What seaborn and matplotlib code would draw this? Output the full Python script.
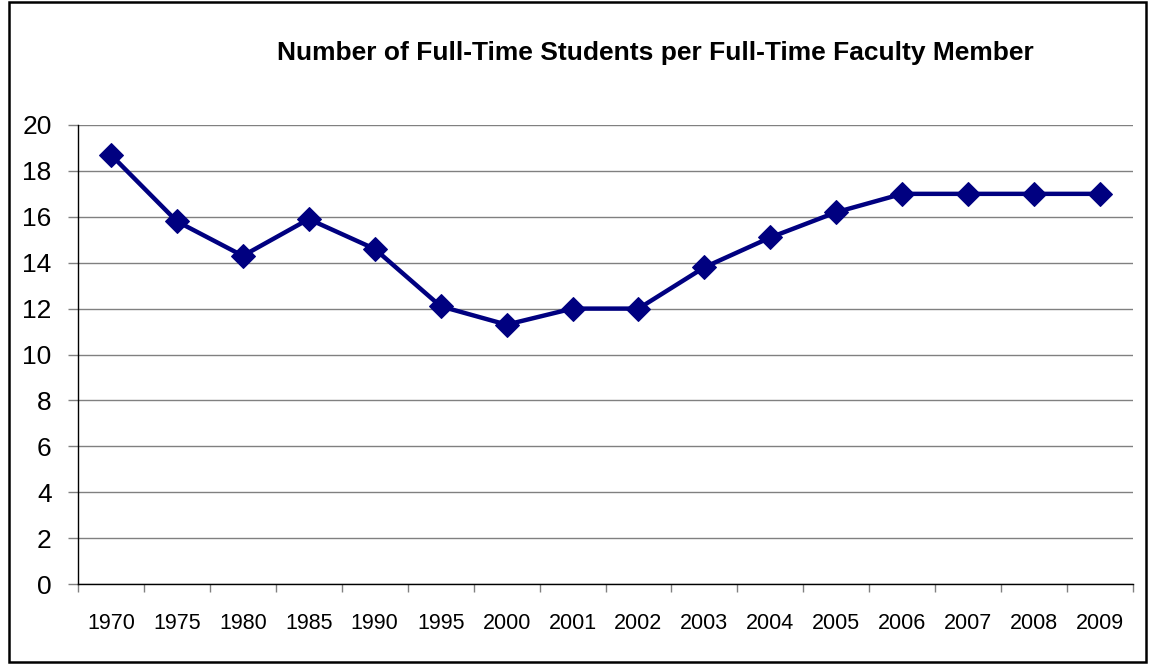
import matplotlib
matplotlib.use("Agg")
import matplotlib.pyplot as plt
import seaborn as sns
import pandas as pd
from matplotlib.patches import Rectangle

years = ["1970", "1975", "1980", "1985", "1990", "1995", "2000", "2001",
         "2002", "2003", "2004", "2005", "2006", "2007", "2008", "2009"]
ratio = [18.7, 15.8, 14.3, 15.9, 14.6, 12.1, 11.3, 12.0,
         12.0, 13.8, 15.1, 16.2, 17.0, 17.0, 17.0, 17.0]
yticks = [0, 2, 4, 6, 8, 10, 12, 14, 16, 18, 20]
title = "Number of Full-Time Students per Full-Time Faculty Member"

sns.set_style("white")
plt.rcParams['font.family'] = ['Liberation Sans', 'DejaVu Sans']
plt.rcParams['text.color'] = 'black'
plt.rcParams['xtick.color'] = 'black'
plt.rcParams['ytick.color'] = 'black'

df = pd.DataFrame({"year": years, "ratio": ratio})
df["pos"] = range(len(years))

fig = plt.figure(figsize=(11.51, 6.64), dpi=100)
fig.patches.append(Rectangle((9/1151, 2/664), 1137/1151, 660/664, transform=fig.transFigure,
                             fill=False, edgecolor="black", linewidth=1.8))
ax = fig.add_axes([78/1151, 1 - 584/664, (1133 - 78)/1151, (584 - 125)/664])

sns.lineplot(data=df, x="pos", y="ratio", ax=ax, color="#000080", linewidth=3.2,
             marker="D", markersize=12, markeredgecolor="#000080", zorder=5)

ax.set_xlim(-0.5, len(years) - 0.5)
ax.set_ylim(0, 20)
ax.set_yticks(yticks)
ax.set_yticklabels([str(v) for v in yticks], fontsize=19, color="black")
ax.yaxis.grid(True, color="#808080", linewidth=1)
ax.set_axisbelow(True)

ax.set_xticks(range(len(years)))
ax.set_xticklabels(years, fontsize=15.5, color="black")
ax.tick_params(axis="x", length=0, pad=21)
ax.set_xticks([i - 0.5 for i in range(len(years) + 1)], minor=True)
ax.tick_params(axis="x", which="minor", length=6, width=1, color="#808080", direction="out", bottom=True)
ax.tick_params(axis="y", length=7, width=1, color="#808080", direction="out", left=True, pad=12)

for s in ["top", "right"]:
    ax.spines[s].set_visible(False)
ax.spines["left"].set_color("black")
ax.spines["bottom"].set_color("black")
ax.spines["left"].set_linewidth(1)
ax.spines["bottom"].set_linewidth(1)
ax.set_xlabel("")
ax.set_ylabel("")

fig.text(655/1151, 1 - 53/664, title, ha="center", va="center", fontsize=19, fontweight="bold",
         color="black")

fig.savefig("out.png", dpi=100)
